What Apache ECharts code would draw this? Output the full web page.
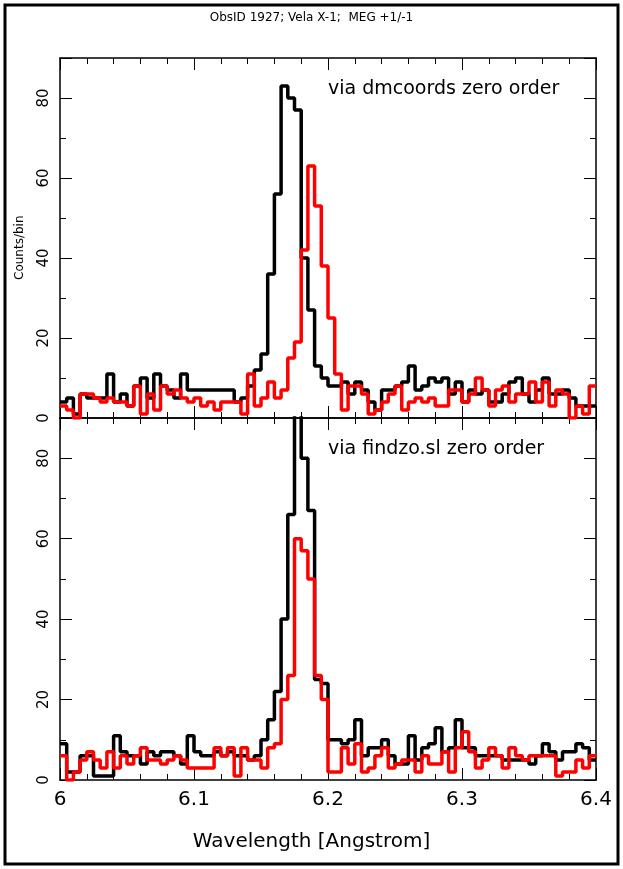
<!DOCTYPE html>
<html>
<head>
<meta charset="UTF-8">
<script src="https://cdn.jsdelivr.net/npm/echarts@6/dist/echarts.min.js"></script>
<style>
  html, body { margin: 0; background: #fff; }
  #main { width: 623px; height: 869px; }
</style>
</head>
<body>
<div id="main"></div>
<script>
// bins of 0.005 Angstrom starting at 6.0
var binStart = 6.0, binWidth = 0.005;
var topBlack = [4,5,1,6,5,5,5,11,4,6,3,8,10,5,11,8,7,5,11,7,7,7,7,7,7,7,4,5,8,12,16,36,56,
  83,80,77,40,27,13,10,
  8,8,9,6,9,7,4,2,7,7,8,9,13,7,8,10,9,10,6,9,4,7,6,7,4,4,6,9,10,6,4,7,10,6,6,7,5,3,3,3];
var topRed = [3,2,0,6,6,5,4,5,4,4,3,8,1,6,2,8,6,7,5,4,5,3,4,2,4,4,4,
  1,11,3,5,9,5,7,15,19,42,63,53,38,25,11,
  2,8,8,6,1,2,4,6,8,2,4,5,4,5,3,3,7,7,4,6,10,7,3,7,8,4,6,6,9,4,9,3,7,6,0,3,1,8];
var botBlack = [9,2,2,6,6,1,1,1,11,7,6,6,4,7,6,7,7,6,4,11,7,6,6,7,6,7,6,6,5,6,
  10,15,22,40,66,95,80,67,25,24,10,
  10,9,10,15,6,8,8,10,6,4,4,11,5,8,9,13,7,8,15,8,8,6,6,6,6,5,5,5,5,4,6,9,7,5,7,7,9,8,5];
var botRed = [6,0,2,5,7,5,3,7,3,6,4,6,8,5,5,4,5,6,5,3,3,3,3,8,6,8,1,8,5,5,3,8,9,
  20,26,60,57,50,26,20,2,
  2,8,4,9,2,3,6,8,3,4,5,5,2,6,4,4,7,2,8,12,7,3,5,8,6,3,8,6,5,6,6,6,6,1,2,2,5,3,6];
var xTicks = [6, 6.1, 6.2, 6.3, 6.4];
var yTicks = [0, 20, 40, 60, 80];

function steps(vals) {
  var pts = vals.map(function (v, i) { return [+(binStart + i * binWidth).toFixed(4), v]; });
  pts.push([+(binStart + vals.length * binWidth).toFixed(4), vals[vals.length - 1]]);
  return pts;
}

var font = 'DejaVu Sans';
var grids = [
  { left: 60, right: 27, top: 58, height: 360 },
  { left: 60, right: 27, top: 418, height: 362 }
];
function xAx(g, pos, labels) {
  return {
    type: 'value', gridIndex: g, position: pos, min: 6, max: 6.4, interval: 0.1,
    axisLine: { show: true, onZero: false, lineStyle: { color: '#000', width: 1.5 } },
    axisTick: { inside: true, length: 12, lineStyle: { color: '#000' } },
    minorTick: { show: true, splitNumber: 5, length: 6, lineStyle: { color: '#000' } },
    splitLine: { show: false },
    axisLabel: { show: labels, color: '#000', fontFamily: font, fontSize: 20, margin: 10,
      formatter: function (v) { return xTicks.indexOf(+v.toFixed(1)) >= 0 ? String(+v.toFixed(1)) : ''; } }
  };
}
function yAx(g, pos, labels) {
  return {
    type: 'value', gridIndex: g, position: pos, min: 0, max: 90, interval: 20,
    axisLine: { show: true, onZero: false, lineStyle: { color: '#000', width: 1.5 } },
    axisTick: { inside: true, length: 12, lineStyle: { color: '#000' } },
    minorTick: { show: true, splitNumber: 2, length: 6, lineStyle: { color: '#000' } },
    splitLine: { show: false },
    axisLabel: { show: labels, color: '#000', fontFamily: font, fontSize: 15, rotate: 90, margin: 8,
      formatter: function (v) { return yTicks.indexOf(v) >= 0 ? String(v) : ''; } }
  };
}
function line(data, color, xi, yi) {
  return { type: 'line', data: steps(data), step: 'end', xAxisIndex: xi, yAxisIndex: yi,
    showSymbol: false, animation: false, lineStyle: { color: color, width: 3.5 }, z: color === '#000' ? 3 : 4 };
}

var chart = echarts.init(document.getElementById('main'));
chart.setOption({
  backgroundColor: '#fff',
  animation: false,
  grid: grids,
  xAxis: [xAx(0, 'bottom', false), xAx(0, 'top', false), xAx(1, 'bottom', true), xAx(1, 'top', false)],
  yAxis: [yAx(0, 'left', true), yAx(0, 'right', false), yAx(1, 'left', true), yAx(1, 'right', false)],
  series: [
    line(topBlack, '#000', 0, 0), line(topRed, '#ff0000', 0, 0),
    line(botBlack, '#000', 2, 2), line(botRed, '#ff0000', 2, 2)
  ],
  graphic: [
    { type: 'rect', shape: { x: 5, y: 5, width: 613, height: 859 }, style: { fill: 'none', stroke: '#000', lineWidth: 3 } },
    { type: 'text', left: 'center', top: 12, style: { text: 'ObsID 1927; Vela X-1;  MEG +1/-1', font: '12px ' + font, fill: '#000' } },
    { type: 'text', left: 328, top: 80, style: { text: 'via dmcoords zero order', font: '19px ' + font, fill: '#000' } },
    { type: 'text', left: 328, top: 440, style: { text: 'via findzo.sl zero order', font: '19px ' + font, fill: '#000' } },
    { type: 'text', x: 14, y: 280, rotation: Math.PI / 2, style: { text: 'Counts/bin', font: '12px ' + font, fill: '#000' } },
    { type: 'text', left: 'center', top: 832, style: { text: 'Wavelength [Angstrom]', font: '20px ' + font, fill: '#000' } }
  ]
});
</script>
</body>
</html>
